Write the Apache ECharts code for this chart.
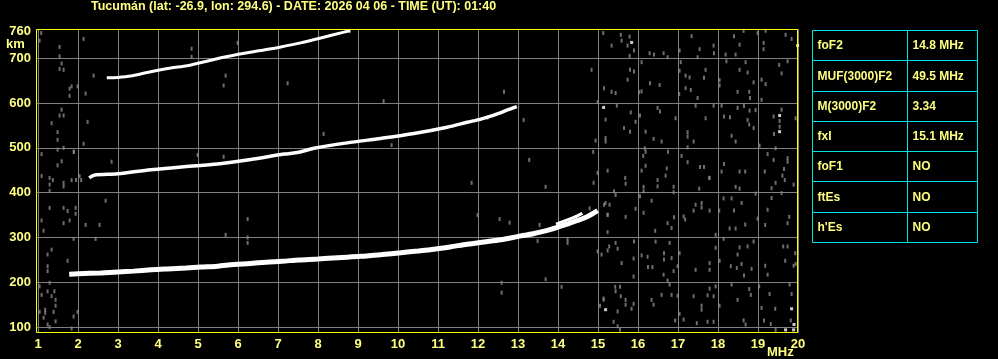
<!DOCTYPE html>
<html><head><meta charset="utf-8">
<script src="https://cdn.jsdelivr.net/npm/echarts@6/dist/echarts.min.js"></script>
<style>html,body{margin:0;padding:0;background:#000}#c{width:998px;height:359px}</style>
</head><body><div id="c"></div><script>
const titleText = 'Tucumán (lat: -26.9, lon: 294.6) - DATE: 2026 04 06 - TIME (UT): 01:40';
const freqTicks = [1,2,3,4,5,6,7,8,9,10,11,12,13,14,15,16,17,18,19,20];
const heightTicks = [100,200,300,400,500,600,700];
const heightLabels = [100,200,300,400,500,600,700,760];

// First-hop F2 trace (ordinary)
const traceF2 = [[1.78,218],[2.0,219],[2.57,221],[3.0,223],[3.39,225],[3.83,228],[4.24,230],[4.7,232],[5.07,234],[5.49,236],[5.9,240],[6.3,242],[6.7,245],[7.1,247],[7.53,250],[8.0,252],[8.5,255],[9.07,258],[9.6,262],[10.07,266],[10.5,270],[10.9,274],[11.3,279],[11.73,285],[12.15,290],[12.57,295],[12.98,302],[13.4,309],[13.82,318],[14.23,330],[14.49,338],[14.74,347],[14.99,360]];
// Extraordinary branch near the critical frequency
const traceF2x = [[13.95,330],[14.2,338],[14.4,345],[14.61,354]];
// Second-hop trace
const trace2F2 = [[2.28,433],[2.4,439],[2.99,442],[3.82,451],[4.65,458],[5.49,464],[6.32,474],[7.15,486],[7.52,490],[7.9,499],[8.73,511],[9.57,521],[10.4,532],[11.23,546],[11.73,557],[12.07,564],[12.52,577],[12.69,583],[12.97,592]];
// Third-hop trace
const trace3F2 = [[2.72,656],[2.99,657],[3.32,660],[3.73,668],[4.32,678],[4.73,683],[5.4,697],[5.98,708],[6.57,717],[7.07,725],[7.57,734],[8.07,745],[8.65,758],[8.8,761]];

const noiseGray = [[15.13,756],[15.57,752],[15.79,748],[15.59,739],[15.34,728],[15.74,728],[15.9,717],[15.79,705],[16.29,711],[16.4,708],[16.64,711],[16.74,702],[17.04,717],[17.34,749],[17.54,720],[17.89,728],[17.9,711],[17.49,702],[18.19,708],[18.21,693],[18.4,749],[18.54,730],[18.64,761],[18.44,708],[18.99,756],[19.14,734],[19.14,720],[19.19,761],[19.69,752],[19.84,743],
[16.09,691],[15.8,674],[15.9,670],[15.74,652],[16.3,644],[16.54,640],[17.07,691],[17.04,672],[17.19,661],[17.29,657],[17.69,674],[17.65,656],[18.04,651],[18.04,639],[18.69,691],[18.54,674],[18.74,668],[18.89,646],[19.09,652],[19.19,642],[19.53,685],[19.59,666],[19.74,693],[14.84,674],[15.15,633],[15.34,625],[15.44,622],[16.03,624],[16.09,626],[14.99,602],[15.47,594],[15.82,579],[16.05,572],[16.49,589],[16.55,581],[16.94,566],[17.19,633],[17.32,629],[17.03,620],[17.49,611],[17.44,594],[17.89,594],[17.69,566],[18.09,594],[18.15,570],[18.3,568],[18.49,589],[18.65,593],[18.79,583],[18.74,562],[18.78,552],[18.89,544],[18.94,584],[18.49,625],[18.78,625],[18.8,611],[19.09,607],[19.39,570],[19.54,560],[19.54,547],[19.4,531],[19.59,585],[19.94,566],[15.19,563],[15.65,544],[15.8,536],[15.94,558],[16.19,536],[16.39,520],[16.59,514],[17.24,535],[17.24,525],[17.39,514],[17.24,501],[15.19,522],[15.19,514],[14.94,516],[16.17,499],[16.19,491],[16.13,482],[16.19,460],[16.09,449],[14.88,491],[15.24,449],[14.99,444],[15.68,433],[16.75,491],[16.72,454],[16.69,438],[17.09,482],[17.24,468],[17.55,457],[17.65,457],[17.79,433],[18.15,464],[18.09,447],[18.54,447],[18.68,447],[18.34,527],[18.44,514],[19.04,505],[19.24,486],[19.39,473],[19.44,499],[19.74,477],[19.74,469],[19.65,453],[19.61,438],[19.17,447],
[14.89,422],[15.69,420],[16.14,413],[16.14,403],[16.49,428],[16.49,414],[16.89,413],[16.89,401],[17.53,409],[17.78,433],[18.44,413],[18.54,409],[18.94,398],[19.34,410],[19.44,422],[19.67,428],[19.89,418],[15.4,403],[15.44,395],[15.19,377],[15.15,373],[15.29,373],[15.24,351],[15.69,346],[15.94,364],[16.05,392],[16.34,382],[16.14,355],[16.43,315],[16.74,332],[16.84,321],[16.9,345],[17.18,340],[17.14,347],[17.44,373],[17.59,377],[17.59,367],[17.39,360],[17.79,360],[18.03,360],[18.14,387],[18.34,387],[18.59,377],[18.4,360],[18.68,329],[18.29,320],[18.44,320],[19.18,328],[19.24,362],[19.34,388],[19.59,399],[19.78,346],[19.74,332],[18.99,342],[17.94,306],[18.14,297],[15.24,312],[15.44,288],[15.49,275],[15.28,280],[15.24,271],[15.09,262],[14.99,269],[15.9,291],[15.59,243],[15.89,253],[15.89,213],[16.09,260],[16.24,257],[16.25,234],[16.36,234],[16.44,291],[16.65,265],[16.65,251],[16.64,217],[16.79,288],[16.84,254],[16.89,225],[17.04,265],[16.99,236],[16.74,204],[17.44,228],[17.79,243],[17.79,228],[17.94,277],[18.04,248],[18.32,236],[18.47,232],[18.54,278],[18.74,280],[18.89,291],[18.49,262],[18.59,241],[18.65,215],[18.84,230],[19.18,237],[19.24,217],[19.63,280],[19.74,280],[19.93,265],[19.68,248],[19.89,237],[19.94,241],
[15.43,190],[15.55,190],[15.44,180],[15.57,169],[15.14,161],[15.69,161],[15.69,150],[15.05,148],[15.49,135],[15.39,112],[15.49,102],[15.55,94],[15.89,152],[15.84,141],[16.34,161],[16.39,150],[16.59,172],[16.84,172],[16.79,195],[16.99,170],[17.04,130],[16.93,115],[17.14,117],[17.47,109],[17.39,169],[17.59,148],[17.59,139],[17.74,171],[17.79,186],[17.89,169],[17.94,191],[18.04,148],[17.74,112],[17.89,112],[18.34,195],[18.49,161],[18.64,115],[18.69,106],[18.78,185],[18.82,172],[19.03,191],[19.09,143],[19.15,115],[19.29,174],[19.43,141],[19.32,107],[19.79,195],[19.84,174],[19.82,115],[19.44,94],
[1.08,756],[1.04,739],[1.54,725],[1.54,704],[2.14,743],[1.59,688],[1.54,676],[1.64,674],[2.39,661],[1.79,632],[1.84,637],[1.79,616],[1.99,637],[2.19,621],[1.59,585],[1.54,572],[1.64,572],[1.34,555],[2.24,558],[1.49,535],[1.49,518],[2.14,509],[1.64,500],[1.49,496],[1.89,491],[1.09,486],[1.59,470],[1.49,461],[1.09,437],[1.29,433],[1.29,418],[1.29,404],[1.64,422],[1.64,414],[2.04,437],
[1.37,428],[1.84,428],[1.95,428],[2.08,428],
[1.29,366],[1.64,366],[1.74,359],[1.94,366],[1.94,353],[1.09,338],[1.64,332],[1.79,338],[2.19,328],[1.14,315],[1.34,273],[1.24,262],[1.74,248],[1.24,236],[1.24,225],[1.04,191],[1.29,199],[1.09,172],[1.24,180],[1.34,169],[1.41,180],[1.44,161],[1.44,148],[1.18,139],[1.18,132],[1.04,134],[1.14,121],[1.39,134],[1.44,113],[1.24,106],[1.89,124],[1.99,134],[1.84,97],[1.29,100],
[1.9,491],[2.84,469],[2.69,382],[2.54,328],[2.44,297],[1.89,297],[5.69,306],[6.24,341],[6.24,300],[6.24,288],[4.99,484],[5.64,480],
[11.84,422],[13.69,413],[11.99,350],[12.54,341],[12.79,333],[13.54,328],[13.49,292],[14.24,296],[14.24,288],[13.69,207],[14.09,190],[12.59,199],[12.59,177],[15.14,164],[15.24,350],[14.79,365],
[4.84,721],[4.84,703],[5.99,734],[5.69,661],[5.64,639],[7.24,644],[8.8,761],
[9.64,604],[8.14,531],[9.84,506],[13.14,562],[13.28,473],[12.24,567],[12.65,625]];
const noiseWhite = [[15.84,735],[19.99,728],[15.14,590],[19.54,572],[19.54,536],[15.19,139],[19.84,141],[19.9,106],[19.69,94],[19.89,94]];

const tableNames = ['foF2','MUF(3000)F2','M(3000)F2','fxI','foF1','ftEs',"h'Es"];
const tableValues = ['14.8 MHz','49.5 MHz','3.34','15.1 MHz','NO','NO','NO'];

const YEL = '#ffff80';
const FONT = 'Liberation Sans, Arial, sans-serif';
const chart = echarts.init(document.getElementById('c'), null, {renderer: 'canvas'});

const tableEls = [];
const tx = 812.5, c1 = 95, c2 = 70, rowH = 30.25;
tableNames.forEach((n, i) => {
  const y = Math.round(30 + i * rowH) + 0.5;
  const h = Math.round(30 + (i + 1) * rowH) - Math.round(30 + i * rowH);
  tableEls.push({type: 'rect', shape: {x: tx, y: y, width: c1, height: h}, style: {fill: 'none', stroke: '#00e4e4', lineWidth: 1}});
  tableEls.push({type: 'rect', shape: {x: tx + c1, y: y, width: c2, height: h}, style: {fill: 'none', stroke: '#00e4e4', lineWidth: 1}});
  tableEls.push({type: 'text', x: tx + 5, y: y + h / 2 + 0.5, style: {text: n, fill: YEL, font: 'bold 12px ' + FONT, verticalAlign: 'middle'}});
  tableEls.push({type: 'text', x: tx + c1 + 5, y: y + h / 2 + 0.5, style: {text: tableValues[i], fill: YEL, font: 'bold 12px ' + FONT, verticalAlign: 'middle'}});
});

const lineS = (data, w) => ({type: 'line', data, showSymbol: false, smooth: 0.3, silent: true, lineStyle: {color: '#ffffff', width: w}, z: 5});

chart.setOption({
  backgroundColor: '#000000',
  animation: false,
  title: {text: titleText, left: 91, top: 0, padding: 0, textStyle: {color: YEL, fontSize: 12.5, fontWeight: 'bold', fontFamily: FONT, lineHeight: 14}},
  grid: {left: 36, right: 200, top: 29, bottom: 26, show: false},
  xAxis: {type: 'value', min: 0.95, max: 20,
    axisLine: {show: false},
    axisTick: {show: false, customValues: freqTicks},
    axisLabel: {customValues: freqTicks, color: YEL, fontSize: 13, fontWeight: 'bold', fontFamily: FONT, margin: 5},
    splitLine: {show: true, lineStyle: {color: '#808080', width: 1}}},
  yAxis: {type: 'value', min: 87, max: 765,
    axisLine: {show: false},
    axisTick: {show: false, customValues: heightTicks},
    axisLabel: {customValues: heightLabels, color: YEL, fontSize: 13, fontWeight: 'bold', fontFamily: FONT, margin: 5},
    splitLine: {show: true, lineStyle: {color: '#808080', width: 1}}},
  graphic: [
    {type: 'text', left: 6, top: 38, style: {text: 'km', fill: YEL, font: 'bold 13px ' + FONT}},
    {type: 'text', left: 767, top: 346, style: {text: 'MHz', fill: YEL, font: 'bold 13px ' + FONT}},
    {type: 'rect', z: 100, silent: true, shape: {x: 36.5, y: 29.5, width: 761, height: 303}, style: {fill: 'none', stroke: '#ffff00', lineWidth: 1}},
    {type: 'group', children: tableEls}
  ],
  series: [
    {type: 'scatter', data: noiseGray, symbol: 'rect', symbolSize: [2, 4], itemStyle: {color: '#8a8a8a'}, silent: true, z: 3},
    {type: 'scatter', data: noiseWhite, symbol: 'rect', symbolSize: [3, 3], itemStyle: {color: '#ffffff'}, silent: true, z: 4},
    lineS(traceF2, 5),
    lineS(traceF2x, 3),
    lineS(trace2F2, 3.5),
    lineS(trace3F2, 3)
  ]
});
</script></body></html>
